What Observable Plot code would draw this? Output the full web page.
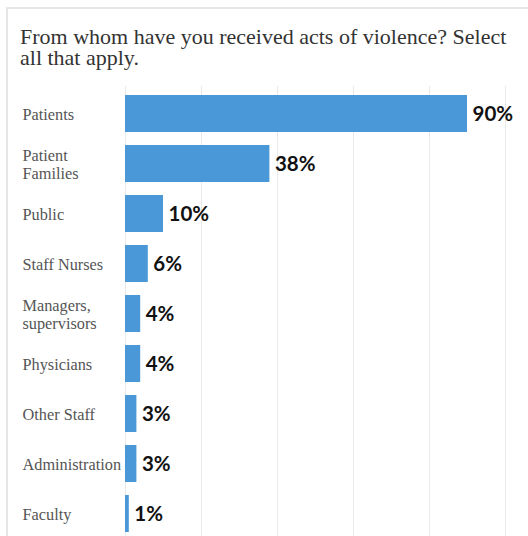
<!DOCTYPE html>
<html>
<head>
<meta charset="utf-8">
<script src="https://cdn.jsdelivr.net/npm/d3@7"></script>
<script src="https://cdn.jsdelivr.net/npm/@observablehq/plot@0.6"></script>
<style>
  html, body { margin: 0; padding: 0; background: #fff; overflow: hidden; }
  #card {
    position: absolute; left: 6px; top: 7px; width: 540px; height: 560px;
    border-left: 2px solid #e6e6e6; border-top: 2px solid #e6e6e6;
  }
  #title {
    position: absolute; left: 20px; top: 26px; width: 496px;
    font-family: 'Liberation Serif', 'Times New Roman', serif;
    font-size: 22px; line-height: 21px; color: #333;
  }
  #chart { position: absolute; left: 0; top: 80px; }
</style>
</head>
<body>
<div id="card"></div>
<div id="title" style="font-family: 'Liberation Serif', 'Times New Roman', serif;">From whom have you received acts of violence? Select all that apply.</div>
<div id="chart"></div>
<script>
const categories = ["Patients", "Patient\nFamilies", "Public", "Staff Nurses", "Managers,\nsupervisors", "Physicians", "Other Staff", "Administration", "Faculty"];
const values = [90, 38, 10, 6, 4, 4, 3, 3, 1];
const xTicks = [0, 20, 40, 60, 80, 100];

const data = categories.map((c, i) => ({category: c, value: values[i]}));

const chart = Plot.plot({
  width: 528,
  height: 460,
  marginLeft: 125,
  marginRight: 23,
  marginTop: 6,
  marginBottom: 0,
  x: {domain: [0, 100], axis: null},
  y: {domain: categories, paddingInner: 0.265, paddingOuter: 0.14, axis: null},
  marks: [
    Plot.ruleX(xTicks, {stroke: "#e9e9e9", strokeWidth: 1}),
    Plot.barX(data, {x: "value", y: "category", fill: "#4a98d8"}),
    Plot.text(data, {
      y: "category", text: "category", frameAnchor: "left", dx: -103,
      textAnchor: "start", fontFamily: "Liberation Serif, serif", fontSize: 16.3,
      lineHeight: 1.12, fill: "#555"
    }),
    Plot.text(data, {
      x: "value", y: "category", text: d => d.value + "%", dx: 5,
      textAnchor: "start", fontFamily: "Lato, sans-serif", fontWeight: "bold",
      fontSize: 20.5, fill: "#111"
    })
  ]
});
document.getElementById("chart").appendChild(chart);
</script>
</body>
</html>
